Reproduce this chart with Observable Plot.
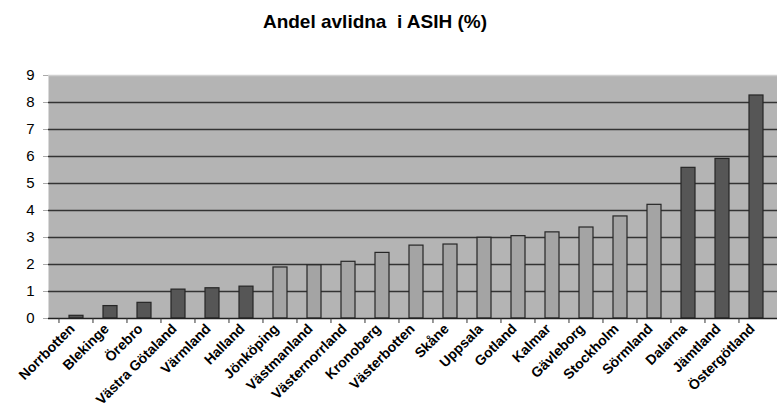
<!DOCTYPE html>
<html><head><meta charset="utf-8">
<script src="https://cdn.jsdelivr.net/npm/d3@7"></script>
<script src="https://cdn.jsdelivr.net/npm/@observablehq/plot@0.6"></script>
<style>
html,body{margin:0;padding:0;background:#fff;overflow:hidden;width:777px;height:413px}
#title{font:bold 19px "Liberation Sans",Arial,sans-serif;height:44px;line-height:44px;text-align:center;color:#000;width:750px;white-space:pre}
#chart{width:784px}
</style></head><body>
<div id="title">Andel avlidna  i ASIH (%)</div>
<div id="chart"></div>
<script>
const lan = ["Norrbotten","Blekinge","Örebro","Västra Götaland","Värmland","Halland","Jönköping","Västmanland","Västernorrland","Kronoberg","Västerbotten","Skåne","Uppsala","Gotland","Kalmar","Gävleborg","Stockholm","Sörmland","Dalarna","Jämtland","Östergötland"];
const andel = [0.1,0.46,0.58,1.07,1.12,1.18,1.89,1.97,2.1,2.43,2.7,2.74,2.99,3.05,3.19,3.37,3.78,4.21,5.58,5.91,8.26];
const grupp = ["mörk","mörk","mörk","mörk","mörk","mörk","ljus","ljus","ljus","ljus","ljus","ljus","ljus","ljus","ljus","ljus","ljus","ljus","mörk","mörk","mörk"];
const yTicks = [0,1,2,3,4,5,6,7,8,9];

const data = lan.map((l, i) => ({lan: l, andel: andel[i], grupp: grupp[i]}));
const W = 784, ML = 48, MR = 0;
const step = (W - ML - MR) / lan.length;

const chart = Plot.plot({
  width: W, height: 369,
  marginTop: 31, marginBottom: 95, marginLeft: ML, marginRight: MR,
  style: {fontFamily: "'Liberation Sans', Arial, sans-serif", background: "white", overflow: "visible", color: "#000"},
  x: {domain: lan, padding: 0.585, label: null, axis: null},
  y: {domain: [0, 9], label: null, axis: null},
  color: {domain: ["mörk", "ljus"], range: ["#565656", "#a4a4a4"]},
  marks: [
    Plot.frame({fill: "#b4b4b4", stroke: null}),
    Plot.ruleY(yTicks.filter(d => d > 0 && d < 9), {stroke: "#333", strokeWidth: 1.5}),
    Plot.ruleY([9], {stroke: "#d0d0d0", strokeWidth: 1.5}),
    Plot.barY(data, {x: "lan", y: "andel", fill: "grupp", stroke: "#262626", strokeWidth: 1.2}),
    Plot.ruleY([0], {stroke: "#222", strokeWidth: 1.5}),
    Plot.axisY({ticks: yTicks, tickSize: 5, tickPadding: 9, fontSize: 15, stroke: "#aaa", fill: "#000"}),
    Plot.axisX({tickSize: 5, tickFormat: () => "", dx: -step / 2, stroke: "#333"}),
    Plot.axisX({tickSize: 0, tickRotate: -45, tickPadding: 8, dx: -4, fontSize: 14, fontWeight: "bold", fill: "#000"})
  ]
});
document.getElementById("chart").appendChild(chart);
</script>
</body></html>
